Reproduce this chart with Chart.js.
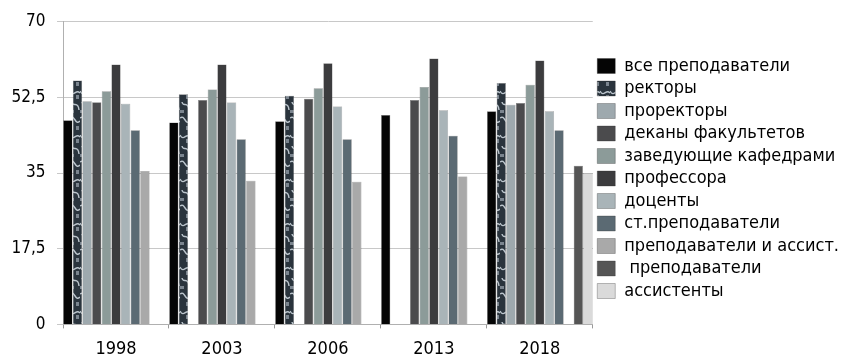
<!DOCTYPE html>
<html>
<head>
<meta charset="utf-8">
<script src="https://cdn.jsdelivr.net/npm/chart.js@4"></script>
<style>
  html, body { margin: 0; padding: 0; background: #fff; }
  #wrap { width: 849px; height: 357px; }
</style>
</head>
<body>
<div id="wrap"><canvas id="staffChart"></canvas></div>
<script>
// Годы
const years = ['1998', '2003', '2006', '2013', '2018'];

// Значения по категориям (null = нет данных)
const allTeachers   = [47.2, 46.7, 47.0, 48.4, 49.3];
const rectors       = [56.4, 53.2, 52.9, null, 55.8];
const prorectors    = [51.6, null, null, null, 50.8];
const deans         = [51.4, 51.9, 52.2, 51.9, 51.2];
const deptHeads     = [53.9, 54.3, 54.6, 54.9, 55.4];
const professors    = [60.1, 60.1, 60.4, 61.5, 61.0];
const docents       = [51.0, 51.3, 50.4, 49.5, 49.3];
const seniorLect    = [44.9, 42.8, 42.8, 43.6, 44.9];
const lectAndAssist = [35.5, 33.2, 33.0, 34.2, null];
const lecturers     = [null, null, null, null, 36.7];
const assistants    = [null, null, null, null, 35.0];

const yTicks = [0, 17.5, 35, 52.5, 70];

const FONT = 'DejaVu Sans Condensed, DejaVu Sans, sans-serif';

// мраморная текстура для ректоров
function marble() {
    const c = document.createElement('canvas');
    c.width = 10; c.height = 44;
    const g = c.getContext('2d');
    g.fillStyle = '#2a343d';
    g.fillRect(0, 0, 10, 44);
    g.strokeStyle = 'rgba(215,224,232,0.85)';
    g.lineWidth = 1.4;
    g.beginPath();
    g.moveTo(0, 3); g.bezierCurveTo(4, 10, 6, 0, 10, 5);
    g.moveTo(2, 14); g.bezierCurveTo(3, 20, 8, 12, 9, 22);
    g.moveTo(0, 30); g.bezierCurveTo(5, 26, 5, 38, 10, 33);
    g.stroke();
    g.fillStyle = 'rgba(190,200,212,0.55)';
    g.fillRect(6, 7, 3, 4);
    g.fillRect(0, 22, 4, 3);
    g.fillRect(6, 38, 3, 4);
    return g.createPattern(c, 'repeat');
}

const ctx = document.getElementById('staffChart').getContext('2d');
const rectorFill = marble();

const series = [
    ['все преподаватели', allTeachers, '#050505'],
    ['ректоры', rectors, rectorFill],
    ['проректоры', prorectors, '#9ea9ae'],
    ['деканы факультетов', deans, '#4b4b4d'],
    ['заведующие кафедрами', deptHeads, '#8c9b99'],
    ['профессора', professors, '#3c3c3e'],
    ['доценты', docents, '#a9b4b8'],
    ['ст.преподаватели', seniorLect, '#5b6a73'],
    ['преподаватели и ассист.', lectAndAssist, '#a9a9a9'],
    [' преподаватели', lecturers, '#555555'],
    ['ассистенты', assistants, '#dadada']
];

new Chart(ctx, {
    type: 'bar',
    data: {
        labels: years,
        datasets: series.map(s => ({
            label: s[0],
            data: s[1],
            backgroundColor: s[2],
            borderColor: 'rgba(40,40,40,0.6)',
            borderWidth: 0.5,
            categoryPercentage: 1.0,
            barPercentage: 0.96
        }))
    },
    options: {
        responsive: true,
        maintainAspectRatio: false,
        animation: false,
        layout: { padding: { top: -2.5, right: 0, left: 0, bottom: -13 } },
        plugins: {
            tooltip: { enabled: false },
            legend: {
                position: 'right',
                align: 'start',
                maxWidth: 300,
                title: {
                    display: true,
                    text: ' ',
                    font: { size: 10 },
                    padding: { top: 43, bottom: 0 }
                },
                labels: {
                    boxWidth: 18,
                    boxHeight: 15,
                    padding: 4.5,
                    color: '#000',
                    font: { family: FONT, size: 18 }
                }
            }
        },
        scales: {
            x: {
                grid: { display: true, drawOnChartArea: false, color: '#999', tickLength: 4 },
                border: { color: '#b0b0b0' },
                ticks: { color: '#000', font: { family: FONT, size: 18 }, padding: 10 }
            },
            y: {
                min: 0,
                max: 70,
                afterBuildTicks: axis => { axis.ticks = yTicks.map(v => ({ value: v })); },
                grid: { color: '#c8c8c8', tickLength: 6 },
                border: { color: '#b0b0b0' },
                ticks: {
                    color: '#000',
                    padding: 11.5,
                    font: { family: FONT, size: 17 },
                    callback: v => String(v).replace('.', ',')
                }
            }
        }
    }
});
</script>
</body>
</html>
